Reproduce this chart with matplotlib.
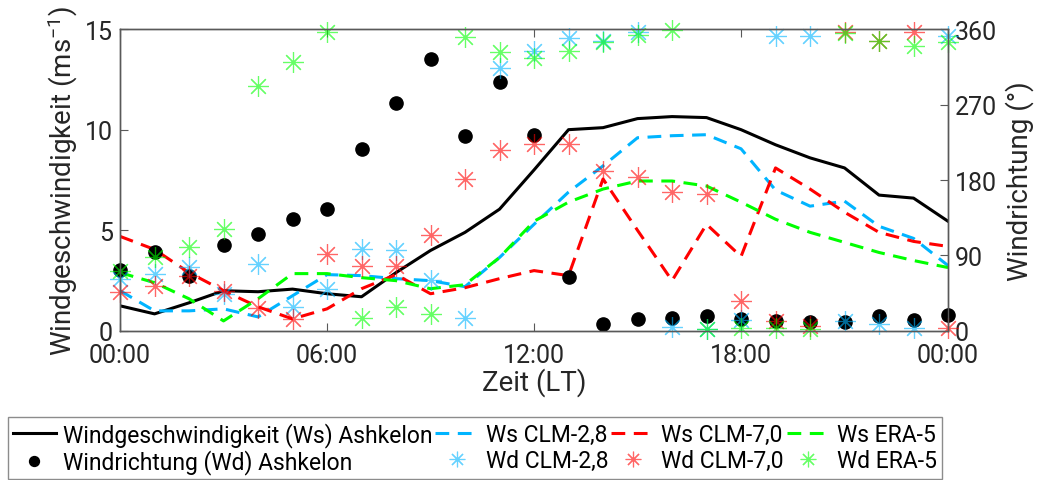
import numpy as np
import matplotlib
matplotlib.use("Agg")
import matplotlib.pyplot as plt
from matplotlib.lines import Line2D

plt.rcParams['font.family'] = ['Roboto', 'DejaVu Sans']
plt.rcParams['mathtext.fontset'] = 'custom'
plt.rcParams['mathtext.rm'] = 'Roboto'
plt.rcParams['mathtext.default'] = 'regular'

hours = np.arange(25)
tick_hours = [0, 6, 12, 18, 24]
tick_labels = ['00:00', '06:00', '12:00', '18:00', '00:00']

# wind speed (m/s)
ws_ashkelon = [1.25, 0.85, 1.4, 2.0, 1.95, 2.08, 1.85, 1.7, 2.9, 4.0, 4.9, 6.05, 8.0,
               10.0, 10.1, 10.55, 10.65, 10.6, 10.0, 9.25, 8.6, 8.1, 6.75, 6.6, 5.45]
ws_clm28 = [2.0, 1.0, 1.0, 1.1, 0.7, 1.75, 2.8, 2.75, 2.6, 2.5, 2.2, 3.65, 5.3,
            6.9, 8.2, 9.6, 9.7, 9.75, 9.05, 7.0, 6.2, 6.45, 5.2, 4.6, 3.25]
ws_clm70 = [4.7, 4.05, 2.9, 2.0, 1.2, 0.6, 1.1, 2.1, 2.8, 1.85, 2.15, 2.6, 3.0,
            2.75, 7.55, 5.0, 2.5, 5.3, 3.7, 8.1, 7.05, 5.9, 4.9, 4.45, 4.2]
ws_era5 = [2.9, 2.4, 1.6, 0.5, 1.6, 2.85, 2.85, 2.65, 2.5, 2.1, 2.3, 3.65, 5.45,
           6.4, 7.05, 7.45, 7.45, 7.2, 6.4, 5.55, 4.9, 4.4, 3.9, 3.5, 3.15]

# wind direction (deg)
wd_ashkelon = [73, 94, 65, 102, 116, 133, 146, 217, 272, 324, 232, 297, 234,
               64, 8, 14, 16, 18, 14, 12, 11, 11, 18, 13, 19]
wd_clm28 = [62, 68, 76, 44, 80, 28, 50, 98, 96, 61, 15, 314, 334,
            349, 346, 356, 5, 2, 13, 352, 352, 12, 8, 4, 352]
wd_clm70 = [46, 54, 66, 48, 27, 14, 92, 78, 78, 114, 181, 216, 223,
            223, 191, 184, 166, 163, 36, 12, 6, 356, 346, 356, 4]
wd_era5 = [72, 88, 100, 122, 292, 321, 356, 16, 28, 20, 351, 333, 325,
           334, 345, 353, 359, 2, 4, 4, 2, 355, 346, 340, 344]

c_blue = '#00B4FF'
c_red = '#FF0000'
c_green = '#00FF00'
txt = '#262626'
dash = (0, (4.5, 2.8))
star = (8, 2, 0)

fig = plt.figure(figsize=(10.41, 4.81), dpi=100)
ax = fig.add_axes([0.1153, 0.3098, 0.7954, 0.6278])
ax2 = ax.twinx()

ax.plot(hours, ws_ashkelon, color='k', lw=2.2)
ax.plot(hours, ws_clm28, color=c_blue, lw=2.2, ls=dash)
ax.plot(hours, ws_clm70, color=c_red, lw=2.2, ls=dash)
ax.plot(hours, ws_era5, color=c_green, lw=2.2, ls=dash)

ax2.plot(hours, wd_ashkelon, 'o', color='k', ms=9.5, clip_on=False)
for vals, c in [(wd_clm28, c_blue), (wd_clm70, c_red), (wd_era5, c_green)]:
    ax2.plot(hours, vals, ls='none', marker=star, ms=15, mew=0.85,
             color=c, alpha=0.6, clip_on=False)

ax.set_xlim(0, 24)
ax.set_ylim(0, 15)
ax2.set_ylim(0, 360)
ax.set_xticks(tick_hours)
ax.set_xticklabels(tick_labels)
ax.set_yticks([0, 5, 10, 15])
ax2.set_yticks([0, 90, 180, 270, 360])

for a in (ax, ax2):
    for s in a.spines.values():
        s.set_color('0.35')
        s.set_linewidth(1)
ax.tick_params(axis='x', direction='in', top=True, length=6, labelsize=18,
               colors='0.35', labelcolor=txt, pad=9)
ax.tick_params(axis='y', direction='in', length=6, labelsize=18,
               colors='0.35', labelcolor=txt, pad=5)
ax2.tick_params(axis='y', direction='in', length=6, labelsize=18,
                colors='0.35', labelcolor=txt, pad=5)

ax.set_xlabel('Zeit (LT)', fontsize=20, color=txt, labelpad=0)
ax.set_ylabel('Windgeschwindigkeit (ms$^{-1}$)', fontsize=20, color=txt, labelpad=4)
ax2.set_ylabel('Windrichtung (°)', fontsize=20, color=txt, labelpad=6)

handles = [
    Line2D([], [], color='k', lw=2.2),
    Line2D([], [], ls='none', marker='o', color='k', ms=9.5),
    Line2D([], [], color=c_blue, lw=2.2, ls=dash),
    Line2D([], [], ls='none', marker=star, ms=15, mew=0.85, color=c_blue, alpha=0.6),
    Line2D([], [], color=c_red, lw=2.2, ls=dash),
    Line2D([], [], ls='none', marker=star, ms=15, mew=0.85, color=c_red, alpha=0.6),
    Line2D([], [], color=c_green, lw=2.2, ls=dash),
    Line2D([], [], ls='none', marker=star, ms=15, mew=0.85, color=c_green, alpha=0.6),
]
labels = ['Windgeschwindigkeit (Ws) Ashkelon', 'Windrichtung (Wd) Ashkelon',
          'Ws CLM-2,8', 'Wd CLM-2,8', 'Ws CLM-7,0', 'Wd CLM-7,0',
          'Ws ERA-5', 'Wd ERA-5']
leg = fig.legend(handles, labels, ncol=4, loc='lower left',
                 bbox_to_anchor=(0.0077, 0.002), borderaxespad=0,
                 fontsize=16.5, handlelength=1.9, handletextpad=0.3,
                 columnspacing=0.12, borderpad=0.2, labelspacing=0.12,
                 fancybox=False, framealpha=1, edgecolor='0.55',
                 markerscale=0.75)
leg.get_frame().set_linewidth(1)
for t in leg.get_texts():
    t.set_color('k')

fig.savefig('out.png', dpi=100)
